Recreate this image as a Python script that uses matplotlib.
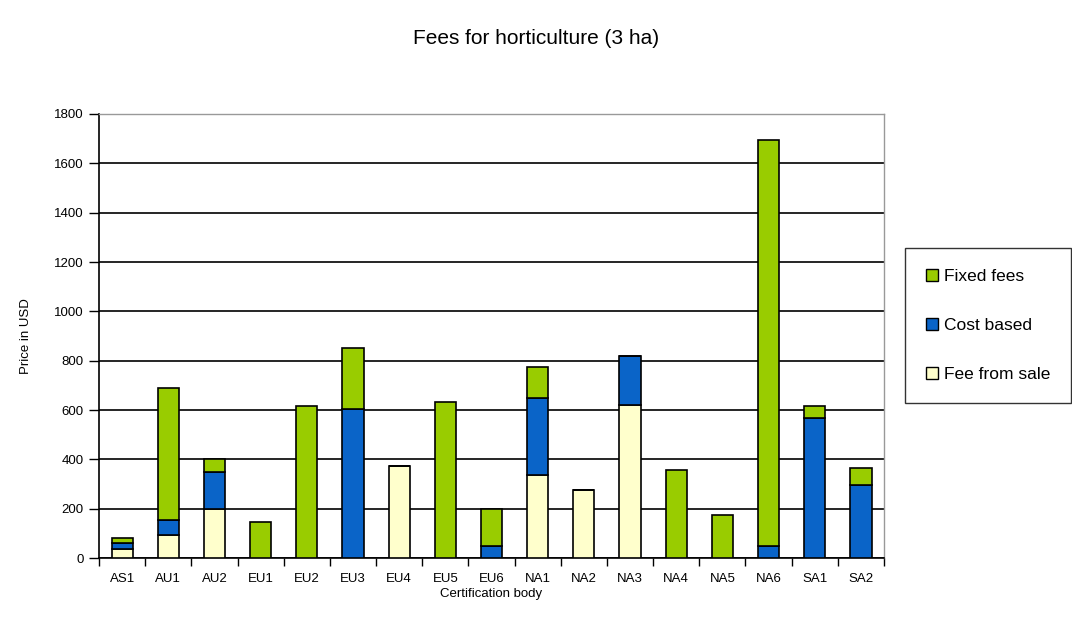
import matplotlib
matplotlib.use("Agg")
import matplotlib.pyplot as plt
import numpy as np
from matplotlib.patches import Patch
from matplotlib.ticker import FixedLocator

categories = ["AS1", "AU1", "AU2", "EU1", "EU2", "EU3", "EU4", "EU5", "EU6",
              "NA1", "NA2", "NA3", "NA4", "NA5", "NA6", "SA1", "SA2"]
fee_from_sale = [36, 95, 200, 0, 0, 0, 373, 0, 0, 338, 277, 621, 0, 0, 0, 0, 0]
cost_based = [25, 58, 147, 0, 0, 605, 0, 0, 47, 310, 0, 196, 0, 0, 47, 567, 297]
fixed_fees = [20, 536, 55, 146, 617, 246, 0, 631, 153, 128, 0, 0, 358, 176, 1648, 50, 68]
yticks = [0, 200, 400, 600, 800, 1000, 1200, 1400, 1600, 1800]

plt.rcParams['font.family'] = ['Liberation Sans', 'DejaVu Sans']

fig = plt.figure(figsize=(10.72, 6.26), dpi=100)
ax = fig.add_axes([0.0924, 0.1086, 0.7322, 0.7093])

x = np.arange(len(categories))
sale = np.array(fee_from_sale)
cost = np.array(cost_based)
fixed = np.array(fixed_fees)

c_sale = "#ffffcc"
c_cost = "#0a64c8"
c_fixed = "#99cc00"
w = 0.46
ax.bar(x, sale, w, color=c_sale, edgecolor="black", linewidth=1.2, zorder=3)
ax.bar(x, cost, w, bottom=sale, color=c_cost, edgecolor="black", linewidth=1.2, zorder=3)
ax.bar(x, fixed, w, bottom=sale + cost, color=c_fixed, edgecolor="black", linewidth=1.2, zorder=3)

ax.set_xlim(-0.5, len(categories) - 0.5)
ax.set_ylim(0, 1800)
ax.set_yticks(yticks)
ax.yaxis.grid(True, color="black", linewidth=1.2, zorder=0)
ax.set_axisbelow(True)
ax.tick_params(axis="y", labelsize=9.5, length=7, width=1, direction="out", pad=4)

ax.set_xticks(x)
ax.set_xticklabels(categories, fontsize=9.5)
ax.tick_params(axis="x", which="major", length=0, pad=11)
ax.xaxis.set_minor_locator(FixedLocator(np.arange(-0.5, len(categories), 1.0)))
ax.tick_params(axis="x", which="minor", length=6, width=1, direction="out")

for s in ["top", "right"]:
    ax.spines[s].set_color("#999999")
    ax.spines[s].set_linewidth(1)
for s in ["left", "bottom"]:
    ax.spines[s].set_color("black")
    ax.spines[s].set_linewidth(1.2)

ax.set_ylabel("Price in USD", fontsize=9.5, labelpad=16)
ax.set_xlabel("Certification body", fontsize=9.5, labelpad=2)
fig.text(0.5, 0.938, "Fees for horticulture (3 ha)", ha="center", va="center", fontsize=15)

handles = [Patch(facecolor=c_fixed, edgecolor="black", label="Fixed fees"),
           Patch(facecolor=c_cost, edgecolor="black", label="Cost based"),
           Patch(facecolor=c_sale, edgecolor="black", label="Fee from sale")]
leg = fig.legend(handles=handles, loc="upper left", bbox_to_anchor=(0.8442, 0.6038),
                 fontsize=12.5, frameon=True, fancybox=False, handlelength=0.7,
                 handleheight=0.7, handletextpad=0.35, labelspacing=1.95,
                 borderpad=1.2, borderaxespad=0)
leg.get_frame().set_edgecolor("black")
leg.get_frame().set_linewidth(1)

fig.savefig("out.png", dpi=100)
